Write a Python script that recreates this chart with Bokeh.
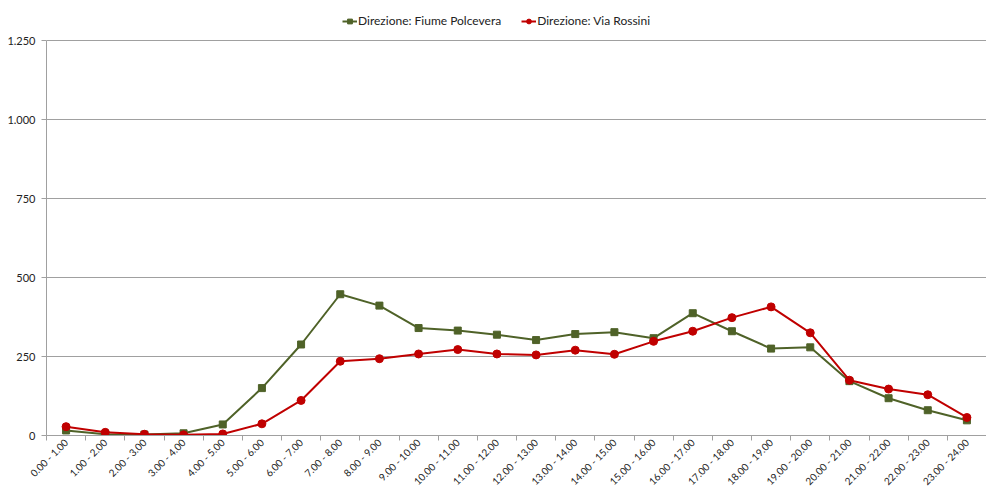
from bokeh.plotting import figure
from bokeh.models import FixedTicker, Legend, LegendItem, Range1d
from bokeh.embed import file_html
from bokeh.resources import INLINE

categories = ["0.00 - 1.00", "1.00 - 2.00", "2.00 - 3.00", "3.00 - 4.00", "4.00 - 5.00",
              "5.00 - 6.00", "6.00 - 7.00", "7.00 - 8.00", "8.00 - 9.00", "9.00 - 10.00",
              "10.00 - 11.00", "11.00 - 12.00", "12.00 - 13.00", "13.00 - 14.00",
              "14.00 - 15.00", "15.00 - 16.00", "16.00 - 17.00", "17.00 - 18.00",
              "18.00 - 19.00", "19.00 - 20.00", "20.00 - 21.00", "21.00 - 22.00",
              "22.00 - 23.00", "23.00 - 24.00"]
fiume_polcevera = [16, 4, 3, 7, 35, 150, 288, 447, 411, 340, 332, 319, 302, 321,
                   327, 308, 387, 330, 275, 279, 172, 118, 80, 48]
via_rossini = [28, 10, 4, 2, 5, 37, 111, 235, 243, 258, 272, 258, 255, 270,
               257, 298, 330, 373, 407, 325, 175, 147, 129, 57]
y_ticks = [0, 250, 500, 750, 1000, 1250]
y_tick_labels = ["0", "250", "500", "750", "1.000", "1.250"]
series_names = ["Direzione: Fiume Polcevera", "Direzione: Via Rossini"]

xs = list(range(1, len(categories) + 1))
y_axis_max = 1250
# extra headroom above the axis maximum to host the legend inside the frame
y_view_max = y_axis_max * 427 / 395

p = figure(width=986, height=494, output_backend="svg", toolbar_location=None,
           x_range=Range1d(0.5, len(categories) + 0.5), y_range=Range1d(0, y_view_max),
           min_border_left=46, min_border_right=0, min_border_top=8, min_border_bottom=59)
p.outline_line_color = None
p.background_fill_color = "white"
p.border_fill_color = "white"

green = "#4F6228"
red = "#C00000"

l1 = p.line(xs, fiume_polcevera, line_color=green, line_width=2)
s1 = p.scatter(xs, fiume_polcevera, marker="square", size=7, fill_color=green, line_color=green)
l2 = p.line(xs, via_rossini, line_color=red, line_width=2)
s2 = p.scatter(xs, via_rossini, marker="circle", size=8, fill_color=red, line_color=red)

# x axis
p.xaxis.ticker = FixedTicker(ticks=xs, minor_ticks=[x + 0.5 for x in range(0, len(categories) + 1)])
p.xaxis.major_label_overrides = {x: c for x, c in zip(xs, categories)}
p.xaxis.major_label_orientation = 0.785398
p.xaxis.major_tick_line_color = None
p.xaxis.major_tick_out = 0
p.xaxis.major_tick_in = 0
p.xaxis.minor_tick_line_color = "#A0A0A0"
p.xaxis.minor_tick_out = 5
p.xaxis.minor_tick_in = 0
p.xaxis.axis_line_color = "#A0A0A0"
p.xaxis.major_label_text_font = "Lato"
p.xaxis.major_label_text_font_size = "10px"
p.xaxis.major_label_text_color = "#222222"
p.xaxis.major_label_standoff = 0

# y axis
p.yaxis.ticker = FixedTicker(ticks=y_ticks)
p.yaxis.major_label_overrides = {t: l for t, l in zip(y_ticks, y_tick_labels)}
p.yaxis.bounds = (0, y_axis_max)
p.yaxis.axis_line_color = "#A0A0A0"
p.yaxis.major_tick_line_color = "#A0A0A0"
p.yaxis.major_tick_out = 5
p.yaxis.major_tick_in = 0
p.yaxis.minor_tick_line_color = None
p.yaxis.major_label_text_font = "Lato"
p.yaxis.major_label_text_font_size = "11px"
p.yaxis.major_label_text_color = "#222222"
p.yaxis.major_label_standoff = 6

p.xgrid.grid_line_color = None
p.ygrid.grid_line_color = "#A0A0A0"
p.ygrid.grid_line_width = 1

legend = Legend(items=[LegendItem(label=series_names[0], renderers=[l1, s1]),
                       LegendItem(label=series_names[1], renderers=[l2, s2])],
                orientation="horizontal", location=(296, 407),
                label_text_font="Lato", label_text_font_size="12px",
                label_text_color="#222222", glyph_width=15, glyph_height=12,
                spacing=20, padding=4, margin=0, label_standoff=1,
                border_line_color=None, background_fill_alpha=0)
p.add_layout(legend, "center")

open("out.html", "w").write(file_html(p, INLINE))
